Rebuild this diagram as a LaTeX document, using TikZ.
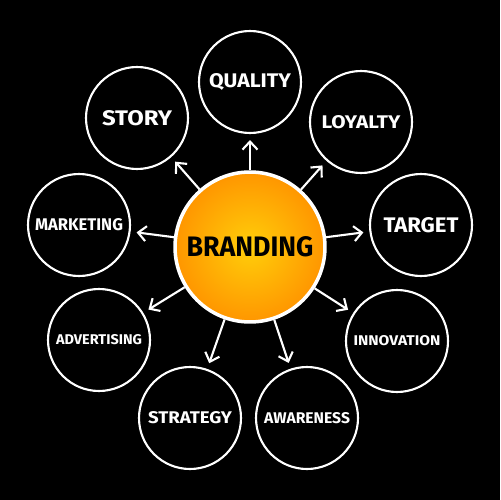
\documentclass[tikz,border=0pt]{standalone}
\usepackage{fontspec}
\setmainfont{Fira Sans}
\usetikzlibrary{arrows.meta}
\tikzset{
  outer/.style={circle, draw=white, line width=1.2pt, minimum size=2.04cm, inner sep=0pt, text=white},
  hub/.style={circle, draw=white, line width=2pt, minimum size=3cm, inner sep=0pt,
    inner color={rgb,255:red,255;green,206;blue,10}, outer color={rgb,255:red,255;green,150;blue,0}, text=black},
  arr/.style={draw=white, line width=1.2pt, -{Straight Barb[length=1.6mm,width=3mm,line width=1.2pt]}, shorten >=0.12cm}
}
\newcommand{\lbl}[3]{\resizebox{#1cm}{#2cm}{\bfseries #3}}
\begin{document}
\begin{tikzpicture}[x=0.02cm,y=-0.02cm]
\fill[black] (0,0) rectangle (500,500);
\useasboundingbox (0,0) rectangle (500,500);
\node[hub] (c) at (250,247) {\lbl{2.54}{0.40}{BRANDING}};
\node[outer] (quality) at (250,82) {\lbl{1.64}{0.28}{QUALITY}};
\node[outer] (story) at (137,118) {\lbl{1.40}{0.30}{STORY}};
\node[outer] (loyalty) at (361,122) {\lbl{1.58}{0.26}{LOYALTY}};
\node[outer] (marketing) at (79,225) {\lbl{1.76}{0.24}{MARKETING}};
\node[outer] (target) at (421,225) {\lbl{1.50}{0.30}{TARGET}};
\node[outer] (advertising) at (99,340) {\lbl{1.72}{0.20}{ADVERTISING}};
\node[outer] (innovation) at (397,341) {\lbl{1.74}{0.20}{INNOVATION}};
\node[outer] (strategy) at (190,418) {\lbl{1.68}{0.24}{STRATEGY}};
\node[outer] (awareness) at (307,418) {\lbl{1.72}{0.22}{AWARENESS}};
\foreach \t in {quality,story,loyalty,marketing,target,advertising,innovation,strategy,awareness}
  \draw[arr] (c) -- (\t);
\end{tikzpicture}
\end{document}
